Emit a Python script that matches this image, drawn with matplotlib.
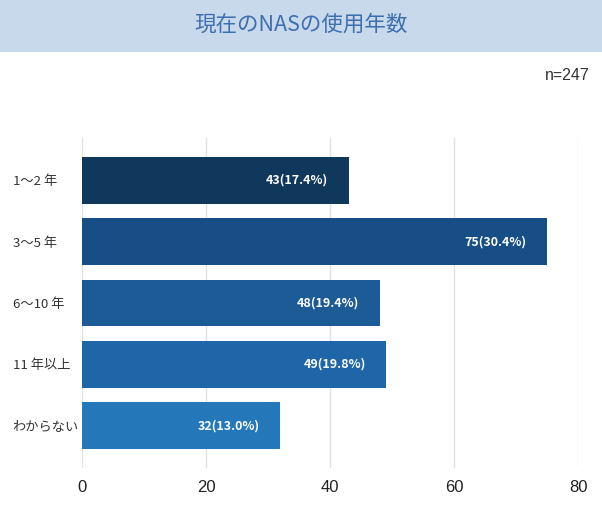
import matplotlib
matplotlib.use("Agg")
import matplotlib.pyplot as plt
from matplotlib.patches import Rectangle
import numpy as np

plt.rcParams["font.family"] = ["Noto Sans CJK JP", "DejaVu Sans"]

# データ
categories = ["1〜2 年", "3〜5 年", "6〜10 年", "11 年以上", "わからない"]
counts = [43, 75, 48, 49, 32]
percents = [17.4, 30.4, 19.4, 19.8, 13.0]
bar_colors = ["#10385c", "#174e85", "#1c5b96", "#1f66a8", "#2478b9"]
x_ticks = [0, 20, 40, 60, 80]
title = "現在のNASの使用年数"
n_label = "n=247"

W, H = 602, 515
fig = plt.figure(figsize=(W / 100, H / 100), dpi=100)

# タイトル帯
fig.patches.append(Rectangle((0, 1 - 52 / H), 1, 52 / H, transform=fig.transFigure,
                             facecolor="#c9d9ec", edgecolor="none", zorder=0))
fig.text(0.5, 1 - 25 / H, title, ha="center", va="center", fontsize=15.5, color="#3d6fad")
fig.text(590 / W, 1 - 76 / H, n_label, ha="right", va="center", fontsize=11.5,
         color="#333333", family="Liberation Sans")

ax = fig.add_axes([82 / W, 47 / H, (578 - 82) / W, (468 - 138) / H])
y_pos = np.arange(len(categories))
ax.barh(y_pos, counts, height=0.76, color=bar_colors, zorder=3)
ax.set_ylim(len(categories) - 1 + 0.69, -0.69)
ax.set_xlim(0, 80)

for i, (c, p) in enumerate(zip(counts, percents)):
    ax.annotate(f"{c}({p:.1f}%)", xy=(c, i), xytext=(-14.5, 0), textcoords="offset points",
                ha="right", va="center", color="white", fontsize=9, fontweight="bold", zorder=4)

ax.set_xticks(x_ticks)
ax.set_xticklabels([str(t) for t in x_ticks], fontsize=12, color="#222222",
                   family="Liberation Sans")
ax.set_yticks(y_pos)
ax.set_yticklabels(categories, fontsize=9.5, color="#333333", ha="left")
ax.tick_params(axis="y", length=0, pad=50)
ax.tick_params(axis="x", length=0, pad=9)
ax.grid(axis="x", color="#e2e2e2", linewidth=1, zorder=0)
ax.axvline(0, color="#c8c8c8", linewidth=1.2, zorder=1)
for s in ax.spines.values():
    s.set_visible(False)

fig.savefig("out.png", dpi=100)
